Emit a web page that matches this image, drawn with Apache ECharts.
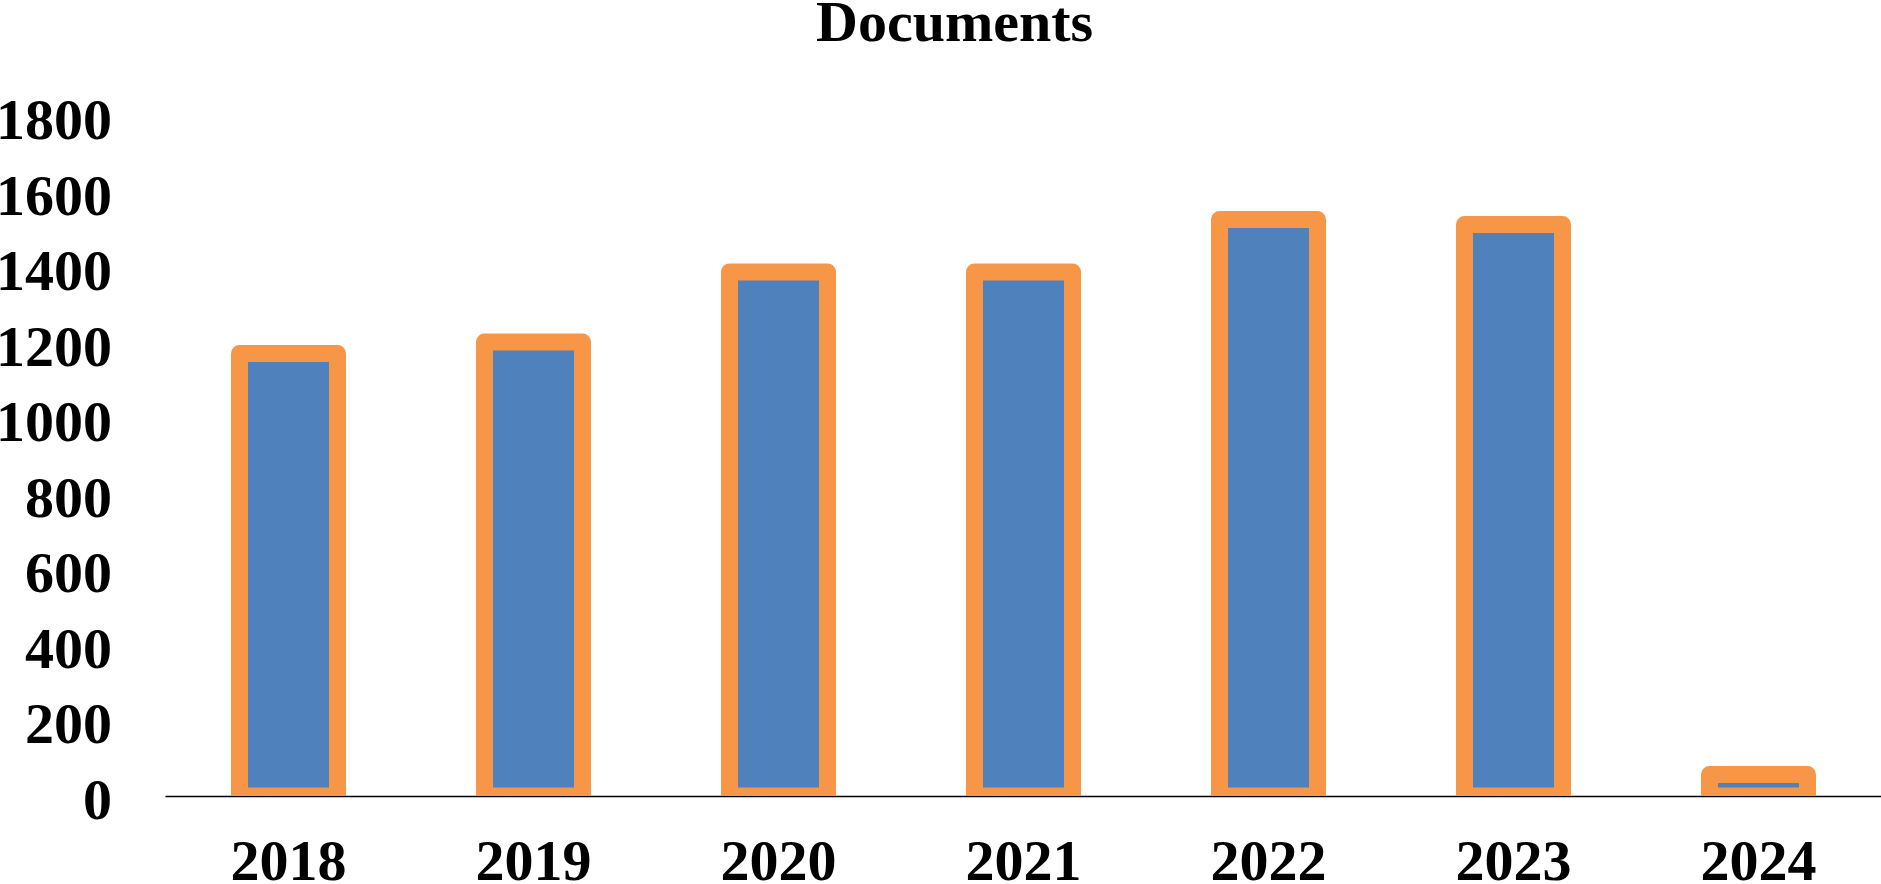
<!DOCTYPE html>
<html>
<head>
<meta charset="utf-8">
<script src="https://cdn.jsdelivr.net/npm/echarts@6/dist/echarts.min.js"></script>
<style>
html,body{margin:0;padding:0;background:#fff;}
#chart{width:1881px;height:884px;}
</style>
</head>
<body>
<div id="chart"></div>
<script>
const categories = ['2018', '2019', '2020', '2021', '2022', '2023', '2024'];
const documents = [1171, 1202, 1387, 1387, 1526, 1513, 57];
const yTicks = { min: 0, max: 1800, interval: 200 };

const FONT = "'Liberation Serif', 'Times New Roman', serif";
const chart = echarts.init(document.getElementById('chart'), null, { renderer: 'canvas' });

chart.setOption({
  backgroundColor: '#ffffff',
  animation: false,
  title: {
    text: 'Documents',
    left: 811,
    top: -8,
    textStyle: { fontFamily: FONT, fontWeight: 'bold', fontSize: 58, color: '#000' }
  },
  grid: { left: 166, right: 0, top: 116, bottom: 88, outerBoundsMode: 'none', containLabel: false },
  xAxis: {
    type: 'category',
    data: categories,
    axisLine: { show: true, lineStyle: { color: '#000', width: 1.3 } },
    axisTick: { show: false },
    axisLabel: { fontFamily: FONT, fontWeight: 'bold', fontSize: 58, color: '#000', margin: 40 },
    splitLine: { show: false }
  },
  yAxis: {
    type: 'value',
    min: yTicks.min,
    max: yTicks.max,
    interval: yTicks.interval,
    axisLine: { show: false },
    axisTick: { show: false },
    splitLine: { show: false },
    axisLabel: {
      fontFamily: FONT, fontWeight: 'bold', fontSize: 58, color: '#000', margin: 54,
      verticalAlign: 'top',
      lineHeight: 16,
      formatter: function (v) { return String(v); }
    }
  },
  series: [{
    type: 'custom',
    name: 'Documents',
    clip: true,
    data: documents.map((v, i) => [i, v]),
    encode: { x: 0, y: 1 },
    renderItem: function (params, api) {
      const top = api.coord([api.value(0), api.value(1)]);
      const base = api.coord([api.value(0), 0]);
      const band = api.size([1, 0])[0];
      const w = band * 0.4;
      return {
        type: 'rect',
        shape: { x: top[0] - w / 2, y: top[1], width: w, height: base[1] - top[1] },
        style: { fill: '#4F81BD', stroke: '#F79646', lineWidth: 17, lineJoin: 'round' }
      };
    },
    z: 1
  }]
});
</script>
</body>
</html>
